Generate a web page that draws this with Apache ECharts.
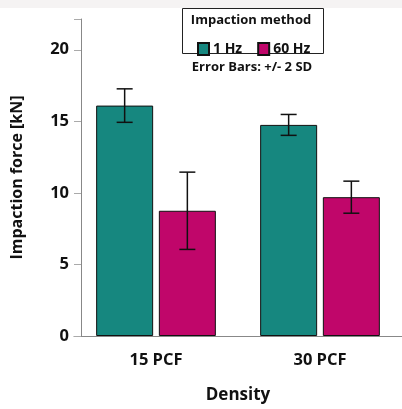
<!DOCTYPE html>
<html>
<head>
<meta charset="utf-8">
<script src="https://cdn.jsdelivr.net/npm/echarts@6/dist/echarts.min.js"></script>
<style>
  html, body { margin: 0; padding: 0; background: #fff; }
  #chart { width: 402px; height: 409px; }
</style>
</head>
<body>
<div id="chart"></div>
<script>
const densities = ['15 PCF', '30 PCF']
const methods = ['1 Hz', '60 Hz']
const means1Hz = [16.1, 14.75]
const means60Hz = [8.75, 9.7]
const sd2_1Hz = [1.17, 0.73]
const sd2_60Hz = [2.7, 1.12]
const yTicks = [0, 5, 10, 15, 20]

const colors = ['#16877f', '#c0066a']
const barWidth = 57
const barGapPx = 5.7
const capWidth = 16
const font = '"Open Sans", sans-serif'

function errorData(means, sd) {
    return means.map((m, i) => [i, m - sd[i], m + sd[i]])
}

function errorSeries(means, sd, offset) {
    return {
        type: 'custom',
        data: errorData(means, sd),
        z: 10,
        silent: true,
        renderItem(params, api) {
            const idx = api.value(0)
            const lo = api.coord([idx, api.value(1)])
            const hi = api.coord([idx, api.value(2)])
            const x = lo[0] + offset
            const style = { stroke: '#111', lineWidth: 1.5 }
            return {
                type: 'group',
                children: [
                    { type: 'line', shape: { x1: x, y1: hi[1], x2: x, y2: lo[1] }, style },
                    { type: 'line', shape: { x1: x - capWidth / 2, y1: hi[1], x2: x + capWidth / 2, y2: hi[1] }, style },
                    { type: 'line', shape: { x1: x - capWidth / 2, y1: lo[1], x2: x + capWidth / 2, y2: lo[1] }, style }
                ]
            }
        }
    }
}

const chart = echarts.init(document.getElementById('chart'))
const off = barWidth / 2 + barGapPx / 2

chart.setOption({
    animation: false,
    textStyle: { fontFamily: font },
    grid: { left: 74, top: 19, width: 340, height: 320, containLabel: false },
    legend: {
        data: methods,
        left: 192,
        top: 37,
        itemWidth: 11,
        itemHeight: 12,
        itemGap: 15,
        icon: 'rect',
        textStyle: { fontFamily: font, fontWeight: 'bold', fontSize: 14, color: '#111', padding: [0, 0, 0, -1] }
    },
    graphic: [
        { type: 'rect', left: 0, top: 0, shape: { width: 402, height: 8 }, style: { fill: '#f5f3f3' }, silent: true },
        { type: 'rect', shape: { x: 182.5, y: 8.5, width: 141, height: 45 }, style: { fill: 'none', stroke: '#222', lineWidth: 1 }, silent: true },
        { type: 'text', x: 251, y: 20, style: { text: 'Impaction method', fontFamily: font, fontWeight: 'bold', fontSize: 13, fill: '#111', align: 'center', verticalAlign: 'middle' } },
        { type: 'text', x: 252, y: 67, style: { text: 'Error Bars: +/- 2 SD', fontFamily: font, fontWeight: 'bold', fontSize: 13, fill: '#111', align: 'center', verticalAlign: 'middle' } }
    ],
    xAxis: {
        type: 'category',
        data: densities,
        name: 'Density',
        nameLocation: 'middle',
        nameGap: 51,
        nameTextStyle: { fontFamily: font, fontWeight: 'bold', fontSize: 17, color: '#111' },
        axisLine: { lineStyle: { color: '#888', width: 1 } },
        axisTick: { alignWithLabel: true, length: 8, lineStyle: { color: '#bbb', width: 1.5 } },
        axisLabel: { fontFamily: font, fontWeight: 'bold', fontSize: 16.5, color: '#111', margin: 16 }
    },
    yAxis: {
        type: 'value',
        min: 0,
        max: 22.15,
        interval: 5,
        offset: -7,
        name: 'Impaction force [kN]',
        nameLocation: 'middle',
        nameGap: 56,
        nameTextStyle: { fontFamily: font, fontWeight: 'bold', fontSize: 16, color: '#111' },
        axisLine: { show: true, lineStyle: { color: '#888', width: 1 } },
        axisTick: { show: true, length: 7, lineStyle: { color: '#aaa' } },
        splitLine: { show: false },
        axisLabel: {
            fontFamily: font, fontWeight: 'bold', fontSize: 16.5, color: '#111', margin: 12,
            formatter: v => (yTicks.includes(v) ? String(v) : '')
        }
    },
    series: [
        {
            name: methods[0],
            type: 'bar',
            data: means1Hz,
            barWidth: barWidth,
            barGap: (barGapPx / barWidth * 100) + '%',
            itemStyle: { color: colors[0], borderColor: '#111', borderWidth: 1 }
        },
        {
            name: methods[1],
            type: 'bar',
            data: means60Hz,
            barWidth: barWidth,
            itemStyle: { color: colors[1], borderColor: '#111', borderWidth: 1 }
        },
        errorSeries(means1Hz, sd2_1Hz, -off),
        errorSeries(means60Hz, sd2_60Hz, off)
    ]
})
</script>
</body>
</html>
